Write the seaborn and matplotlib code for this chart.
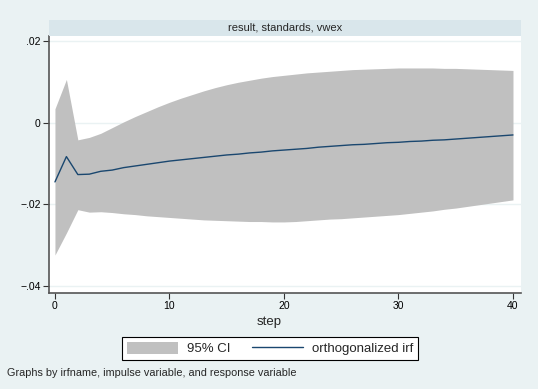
import numpy as np
import pandas as pd
import matplotlib
matplotlib.use("Agg")
import matplotlib.pyplot as plt
import seaborn as sns
from matplotlib.patches import Patch
from matplotlib.lines import Line2D

steps = list(range(41))
irf = [-0.0145, -0.0083, -0.0127, -0.0126, -0.0119, -0.0116, -0.0110, -0.0106, -0.0102, -0.0098,
       -0.0094, -0.0091, -0.0088, -0.0085, -0.0082, -0.0079, -0.0077, -0.0074, -0.0072, -0.0069,
       -0.0067, -0.0065, -0.0063, -0.0060, -0.0058, -0.0056, -0.0054, -0.0053, -0.0051, -0.0049,
       -0.0048, -0.0046, -0.0045, -0.0043, -0.0042, -0.0040, -0.0038, -0.0036, -0.0034, -0.0032,
       -0.0030]
ci_upper = [0.0034, 0.0106, -0.0042, -0.0036, -0.0026, -0.0012, 0.0002, 0.0015, 0.0027, 0.0039,
            0.0050, 0.0060, 0.0069, 0.0078, 0.0086, 0.0093, 0.0099, 0.0104, 0.0109, 0.0113,
            0.0116, 0.0119, 0.0122, 0.0124, 0.0126, 0.0128, 0.0130, 0.0131, 0.0132, 0.0133,
            0.0134, 0.0134, 0.0134, 0.0134, 0.0133, 0.0133, 0.0132, 0.0131, 0.0130, 0.0129,
            0.0128]
ci_lower = [-0.0324, -0.0270, -0.0213, -0.0219, -0.0218, -0.0220, -0.0223, -0.0225, -0.0228, -0.0230,
            -0.0232, -0.0234, -0.0236, -0.0238, -0.0239, -0.0240, -0.0241, -0.0242, -0.0242, -0.0243,
            -0.0243, -0.0242, -0.0240, -0.0238, -0.0236, -0.0235, -0.0233, -0.0231, -0.0229, -0.0227,
            -0.0225, -0.0222, -0.0219, -0.0216, -0.0212, -0.0209, -0.0205, -0.0201, -0.0197, -0.0193,
            -0.0189]
xticks = [0, 10, 20, 30, 40]
yticks = [0.02, 0.0, -0.02, -0.04]
ytick_labels = [".02", "0", "\u2212.02", "\u2212.04"]
panel_title = "result, standards, vwex"
x_label = "step"
legend_labels = ["95% CI", "orthogonalized irf"]
note = "Graphs by irfname, impulse variable, and response variable"

df = pd.DataFrame({"step": steps, "irf": irf, "lo": ci_lower, "hi": ci_upper})

sns.set_theme(style="white")
plt.rcParams['font.family'] = ['Liberation Sans', 'DejaVu Sans']

W, H = 538, 389
bg = "#EAF2F3"
fig = plt.figure(figsize=(W / 100, H / 100), dpi=100, facecolor=bg)

def box(x0, y0, x1, y1):
    return [x0 / W, 1 - y1 / H, (x1 - x0) / W, (y1 - y0) / H]

ax = fig.add_axes(box(49, 36, 521, 293))
ax.set_facecolor("white")

for yv in yticks:
    ax.axhline(yv, color="#EAF2F3", lw=1.0, zorder=0)

ax.fill_between(df["step"], df["lo"], df["hi"], color="#C0C0C0", lw=0, zorder=1)
sns.lineplot(data=df, x="step", y="irf", ax=ax, color="#1A476F", lw=1.0, zorder=2)

ax.set_xlim(-0.52, 40.7)
ax.set_ylim(-0.0417, 0.02123)
ax.set_xticks(xticks)
ax.set_xticklabels([str(t) for t in xticks], fontsize=7.5)
ax.set_yticks(yticks)
ax.set_yticklabels(ytick_labels, fontsize=7.5)
ax.tick_params(axis="both", direction="out", length=4, width=0.8, color="#333333",
               labelcolor="black", pad=2, left=True, bottom=True)
for s in ["top", "right"]:
    ax.spines[s].set_visible(False)
for s in ["left", "bottom"]:
    ax.spines[s].set_color("#555555")
    ax.spines[s].set_linewidth(1.2)
ax.set_xlabel("")
ax.set_ylabel("")
fig.text(269 / W, 1 - 322 / H, x_label, fontsize=9.5, ha="center", va="center")

# panel strip
sax = fig.add_axes(box(49, 20, 521, 36))
sax.set_facecolor("#D9E6EB")
sax.set_xticks([]); sax.set_yticks([])
for s in sax.spines.values():
    s.set_visible(False)
sax.text(0.5, 0.5, panel_title, ha="center", va="center", fontsize=8, transform=sax.transAxes)

handles = [Patch(facecolor="#C0C0C0", edgecolor="none"),
           Line2D([0], [0], color="#1A476F", lw=1.0)]
leg = fig.legend(handles, legend_labels, ncol=2, loc="center",
                 bbox_to_anchor=(270 / W, 1 - 348.5 / H), fontsize=9.5,
                 frameon=True, fancybox=False, edgecolor="black", framealpha=1,
                 handlelength=3.9, handleheight=1.0, columnspacing=1.6, handletextpad=0.68,
                 borderpad=0.35, borderaxespad=0)
leg.get_frame().set_linewidth(0.8)

fig.text(7 / W, 1 - 373 / H, note, fontsize=7.8, ha="left", va="center")

fig.savefig("out.png", dpi=100, facecolor=bg)
